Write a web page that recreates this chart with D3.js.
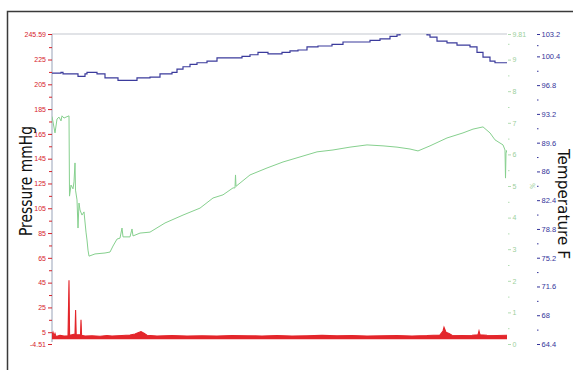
<!DOCTYPE html>
<html>
<head>
<meta charset="utf-8">
<script src="https://cdn.jsdelivr.net/npm/d3@7"></script>
<style>
  body { margin: 0; background: #fff; }
  svg { display: block; font-family: "Liberation Sans Narrow", "DejaVu Sans Condensed", sans-serif; }
  .axis path.domain { stroke: none; }
  .axis text { font-size: 7px; }
</style>
</head>
<body>
<script>
// sample index (no visible time axis) -> value
const pressure = [
  [0, 3], [1, 5], [2, 2], [3, 4], [4, 1.5], [8, 2.5], [12, 2], [16, 2.2], [17, 47], [17.6, 2.5],
  [20, 3], [23, 3.5], [23.6, 23], [24.2, 3], [26, 3], [28.5, 3], [29, 15], [29.6, 2.5], [33, 2],
  [40, 2.2], [48, 1.8], [55, 2.3], [60, 2], [70, 2.4], [78, 2.8], [83, 3.5], [86, 4.5], [89, 5.5],
  [92, 4.2], [95, 2.5], [105, 2], [120, 2.3], [135, 2], [150, 2.2], [165, 2], [180, 2.4], [195, 2.1],
  [210, 2], [225, 2.3], [240, 2], [255, 2.2], [270, 2.5], [285, 2.1], [300, 2.3], [315, 2], [330, 2.2],
  [345, 2.4], [360, 2], [375, 2.3], [388, 2.8], [391, 6], [392, 9], [394, 5], [397, 4], [400, 2.5],
  [410, 2.3], [420, 2.5], [426, 3], [427, 6], [428, 3], [435, 2.5], [445, 2.4], [455, 2.5]
];

const percent = [
  [0, 7.2], [3, 6.68], [5, 7.12], [7, 7.18], [9, 7.06], [10, 7.22], [12, 7.15], [14, 7.18], [17, 7.22],
  [17.5, 4.68], [19, 5.03], [21, 4.91], [22, 5.13], [23, 5.73], [23.5, 4.87], [25, 4.56], [26, 3.67],
  [27, 4.46], [28, 4.24], [30, 4.08], [32, 4.18], [34, 3.54], [35, 3.29], [36, 2.97], [37, 2.78],
  [43, 2.85], [53, 2.88], [58, 2.91], [61, 3.1], [65, 3.32], [68, 3.35], [70, 3.67], [71, 3.39],
  [78, 3.39], [80, 3.64], [81, 3.42], [88, 3.51], [98, 3.54], [113, 3.83], [131, 4.08], [148, 4.3],
  [161, 4.62], [171, 4.72], [181, 4.94], [183, 4.94], [183.5, 5.35], [184, 4.99], [198, 5.35],
  [215, 5.57], [231, 5.76], [248, 5.92], [265, 6.08], [281, 6.14], [298, 6.23], [315, 6.3],
  [331, 6.27], [345, 6.23], [358, 6.17], [366, 6.11], [378, 6.27], [395, 6.52], [411, 6.68],
  [421, 6.8], [431, 6.87], [438, 6.68], [443, 6.46], [448, 6.36], [451, 6.3], [453, 6.14],
  [453.5, 5.25], [454, 6.04], [455, 6.14]
];

const temperature = [
  [0, 98.3], [9, 98.4], [11, 98.2], [26, 97.9], [33, 98.2], [35, 98.4], [45, 98.2], [53, 97.7],
  [66, 97.4], [85, 97.7], [98, 97.8], [108, 98.2], [120, 98.4], [125, 98.8], [131, 99.1], [138, 99.4],
  [145, 99.6], [155, 99.8], [165, 100.2], [190, 100.4], [198, 100.6], [206, 100.9], [216, 100.7],
  [230, 100.9], [238, 101.1], [246, 101.2], [255, 101.6], [266, 101.7], [280, 101.9], [291, 102.2],
  [318, 102.4], [328, 102.6], [338, 102.9], [345, 103.1], [348, 103.4], [355, 103.8], [365, 103.9],
  [372, 103.5], [375, 103.1], [378, 102.8], [385, 102.3], [395, 102.1], [405, 101.8], [418, 101.6],
  [425, 100.9], [431, 100.3], [438, 99.8], [443, 99.6], [455, 99.6]
];

const pressureTicks = [-4.51, 5, 25, 45, 65, 85, 105, 125, 145, 165, 185, 205, 225, 245.59];
const pressureMinor = [15, 35, 55, 75, 95, 115, 135, 155, 175, 195, 215, 235];
const percentTicks = [0, 1, 2, 3, 4, 5, 6, 7, 8, 9, 9.81];
const percentMinor = [0.5, 1.5, 2.5, 3.5, 4.5, 5.5, 6.5, 7.5, 8.5, 9.5];
const tempTicks = [64.4, 68, 71.6, 75.2, 78.8, 82.4, 86, 89.6, 93.2, 96.8, 100.4, 103.2];
const tempMinor = [66.2, 69.8, 73.4, 77, 80.6, 84.2, 87.8, 91.4, 95, 98.6, 101.8];

let W = 573, H = 370;
let plot = { left: 52, right: 507, top: 34, bottom: 344 };

let svg = d3.select("body").append("svg")
  .attr("width", W)
  .attr("height", H);

// outer frame (only top/left edges visible)
svg.append("path")
  .attr("d", "M7.5," + H + "V11.5H" + W)
  .attr("fill", "none")
  .attr("stroke", "#3a3a3a")
  .attr("stroke-width", 1.5);

let x = d3.scaleLinear().domain([0, 455]).range([plot.left, plot.right]);
let yP = d3.scaleLinear().domain([-4.51, 245.59]).range([plot.bottom, plot.top]);
let yPct = d3.scaleLinear().domain([0, 9.81]).range([plot.bottom, plot.top]);
let yT = d3.scaleLinear().domain([64.4, 103.2]).range([plot.bottom, plot.top]);

svg.append("clipPath").attr("id", "clip")
  .append("rect")
  .attr("x", plot.left).attr("y", plot.top)
  .attr("width", plot.right - plot.left).attr("height", plot.bottom - plot.top + 4);

// top border of plot
svg.append("line")
  .attr("x1", plot.left).attr("x2", plot.right)
  .attr("y1", plot.top).attr("y2", plot.top)
  .attr("stroke", "#c4c8d0").attr("stroke-width", 1.2);

// left axis line
svg.append("line")
  .attr("x1", plot.left).attr("x2", plot.left)
  .attr("y1", plot.top).attr("y2", plot.bottom - 2)
  .attr("stroke", "#aab2c4").attr("stroke-width", 1.2);

let fmt = d => String(d);

// left pressure axis
let left = svg.append("g")
  .attr("class", "axis")
  .attr("transform", "translate(" + plot.left + ",0)");
left.call(d3.axisLeft(yP).tickValues(pressureTicks).tickFormat(fmt).tickSize(4).tickPadding(2));
left.append("g").call(d3.axisLeft(yP).tickValues(pressureMinor).tickFormat("").tickSize(3));
left.selectAll("line").attr("stroke", "#d6232b");
left.selectAll("text").attr("fill", "#d6232b");
left.selectAll("path.domain").attr("stroke", "none");

// right % axis
let mid = svg.append("g")
  .attr("class", "axis")
  .attr("transform", "translate(" + (plot.right + 1) + ",0)");
mid.call(d3.axisRight(yPct).tickValues(percentTicks).tickFormat(fmt).tickSize(3).tickPadding(1.5));
mid.append("g").call(d3.axisRight(yPct).tickValues(percentMinor).tickFormat("").tickSize(1.5));
mid.selectAll("line").attr("stroke", "#b2dcb2");
mid.selectAll("text").attr("fill", "#9ccf9c");
mid.selectAll("path.domain").attr("stroke", "none");

// right temperature axis
let right = svg.append("g")
  .attr("class", "axis")
  .attr("transform", "translate(537,0)");
right.call(d3.axisRight(yT).tickValues(tempTicks).tickFormat(fmt).tickSize(3).tickPadding(1.5));
right.append("g").call(d3.axisRight(yT).tickValues(tempMinor).tickFormat("").tickSize(1.5));
right.selectAll("line").attr("stroke", "#34349a");
right.selectAll("text").attr("fill", "#34349a").style("font-size", "7.5px");
right.selectAll("path.domain").attr("stroke", "none");

// axis titles
svg.append("text")
  .attr("transform", "translate(31.5,181) rotate(-90)")
  .attr("text-anchor", "middle")
  .attr("textLength", 110).attr("lengthAdjust", "spacingAndGlyphs")
  .style("font-size", "17px")
  .attr("fill", "#111")
  .text("Pressure mmHg");

svg.append("text")
  .attr("transform", "translate(557.5,204) rotate(90)")
  .attr("text-anchor", "middle")
  .attr("textLength", 110).attr("lengthAdjust", "spacingAndGlyphs")
  .style("font-size", "16px")
  .attr("fill", "#111")
  .text("Temperature F");

svg.append("text")
  .attr("transform", "translate(530,186) rotate(90)")
  .attr("text-anchor", "middle")
  .style("font-size", "7px")
  .attr("fill", "#9ccf9c")
  .text("%");

let lines = svg.append("g").attr("clip-path", "url(#clip)");

lines.append("path")
  .datum(temperature)
  .attr("fill", "none")
  .attr("stroke", "#3b3b9c")
  .attr("stroke-width", 1.2)
  .attr("d", d3.line().curve(d3.curveStepAfter).x(d => x(d[0])).y(d => yT(d[1])));

lines.append("path")
  .datum(percent)
  .attr("fill", "none")
  .attr("stroke", "#86d08e")
  .attr("stroke-width", 1)
  .attr("d", d3.line().x(d => x(d[0])).y(d => yPct(d[1])));

// pressure: dense trace drawn as a filled band down to ~0 mmHg, spikes stay thin
lines.append("path")
  .datum(pressure)
  .attr("fill", "#e3262b")
  .attr("d", d3.area().x(d => x(d[0])).y0(yP(-0.6)).y1(d => yP(d[1])));

lines.append("path")
  .datum(pressure)
  .attr("fill", "none")
  .attr("stroke", "#e3262b")
  .attr("stroke-width", 1.1)
  .attr("d", d3.line().x(d => x(d[0])).y(d => yP(d[1])));
</script>
</body>
</html>
